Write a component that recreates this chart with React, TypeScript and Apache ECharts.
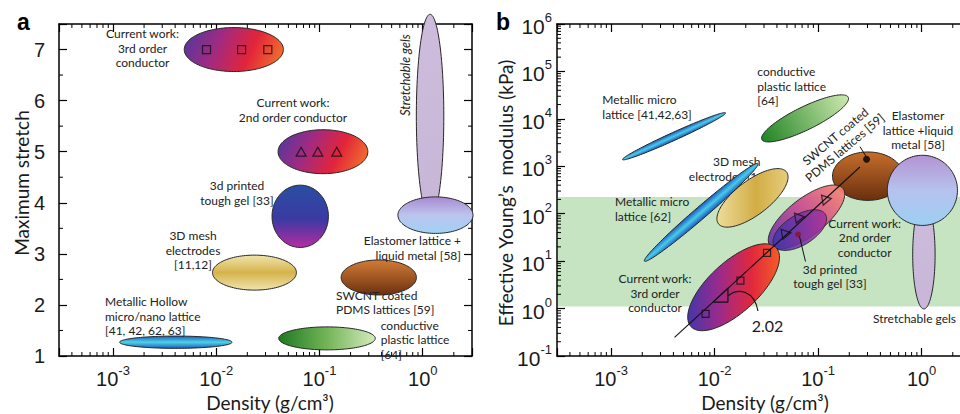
import React, { useEffect, useRef } from "react";
import * as echarts from "echarts";

// ---------------- axes ----------------
const densityMin = 3e-4;
const densityMax = 3;
const stretchMin = 1;
const stretchMax = 7.5;
const modulusMin = 0.1;
const modulusMax = 1e6;
const stretchMinorTicks = [1.5, 2.5, 3.5, 4.5, 5.5, 6.5];
const densityDecades = [-4, -3, -2, -1, 0];
const modulusDecades = [-1, 0, 1, 2, 3, 4, 5];
const minorMultipliers = [2, 3, 4, 5, 6, 7, 8, 9];

// ---------------- panel a : maximum stretch vs density ----------------
// axis-aligned regions: [densityLow, densityHigh, stretchLow, stretchHigh]
const aStretchableGels = [0.867, 1.6, 3.7, 7.69];
const aElastomerLM = [0.575, 3.07, 3.4, 4.115];
const aThirdOrder = [4.9e-3, 0.0447, 6.57, 7.43];
const aSecondOrder = [0.0397, 0.294, 4.57, 5.43];
const aToughGel = [0.0347, 0.122, 3.125, 4.345];
const aMeshElectrodes = [9.2e-3, 0.0598, 2.29, 2.975];
const aSwcntPdms = [0.162, 0.869, 2.195, 2.88];
const aHollowLattice = [1.16e-3, 0.0142, 1.15, 1.39];
const aPlasticLattice = [0.0403, 0.347, 1.12, 1.57];
const aSquareDensity = [8.05e-3, 0.0176, 0.0316];
const aSquareStretch = [7, 7, 7];
const aTriangleDensity = [0.0664, 0.0964, 0.147];
const aTriangleStretch = [5, 5, 5];

// ---------------- panel b : modulus vs density ----------------
// tilted regions: [density1, modulus1, density2, modulus2, widthRatio]
const bMicroLattice1 = [1.29e-3, 1384, 0.01276, 13360, 0.07];
const bPlasticLattice = [0.0286, 3665, 0.1954, 28560, 0.24];
const bMeshElectrodes = [0.01089, 61.3, 0.0495, 760, 0.4];
const bMicroLattice2 = [2.1e-3, 10, 0.0262, 1140, 0.08];
const bSecondOrder = [0.0343, 21.2, 0.1738, 339.7, 0.4];
const bToughGel = [0.0377, 20.9, 0.1175, 97.3, 0.5];
const bThirdOrder = [5.91e-3, 0.416, 0.0394, 19.05, 0.43];
// axis-aligned regions: [densityLow, densityHigh, modulusLow, modulusHigh]
const bSwcntPdms = [0.1377, 0.665, 191, 2004];
const bElastomerLM = [0.466, 2.22, 56.6, 1706];
const bStretchableGels = [0.82, 1.35, 0.98, 190];
const bBand = [1.1, 224];
const bSquareDensity = [8.18e-3, 0.01775, 0.0321];
const bSquareModulus = [0.77, 3.9, 15.0];
const bTriangleDensity = [0.0494, 0.0665, 0.1213];
const bTriangleModulus = [38.4, 83.6, 201];
const bSwcntPoint = [0.294, 1406];
const bToughGelPoint = [0.064, 36.5];
const bFitDensity = [4.1e-3, 0.2535];
const bFitModulus = [0.247, 966];
const bSlopeDensity = [9.63e-3, 0.01345, 0.01345, 9.63e-3];
const bSlopeModulus = [1.37, 2.68, 1.37, 1.37];
const slopeLabel = "2.02";

// ---------------- styles ----------------
type Fill = { dir: string; stops: [number, string][]; opacity?: number };
const F: Record<string, Fill> = {
  gel: { dir: "v", stops: [[0, "#cdbcdb"], [1, "#c8b6d8"]] },
  elastomer: { dir: "v", stops: [[0, "#a98ad0"], [0.5, "#bcc4ee"], [1, "#9fd2f4"]] },
  current: { dir: "d", stops: [[0, "#4a3aa0"], [0.35, "#a22a80"], [0.65, "#e2243a"], [1, "#f4822a"]] },
  tough: { dir: "v", stops: [[0, "#2a4ea2"], [0.55, "#3b3aa2"], [1, "#b42ca2"]] },
  meshA: { dir: "v", stops: [[0, "#f0e4aa"], [0.5, "#d5b34c"], [1, "#f0e4ae"]] },
  swcnt: { dir: "v", stops: [[0, "#d27c36"], [1, "#6c300f"]] },
  hollow: { dir: "v", stops: [[0, "#1c5cc0"], [0.5, "#4fd2e6"], [1, "#1c5cc0"]] },
  plasticA: { dir: "h", stops: [[0, "#1e7a22"], [0.5, "#74b458"], [1, "#d4eabc"]] },
  micro: { dir: "minor", stops: [[0, "#1a58c0"], [0.5, "#48cbe8"], [1, "#1a58c0"]] },
  plasticB: { dir: "major", stops: [[0, "#208424"], [1, "#cde8ae"]] },
  meshB: { dir: "h", stops: [[0, "#eedc9a"], [0.55, "#d2ad46"], [1, "#e6cc7c"]] },
  thirdB: { dir: "h", stops: [[0, "#4536aa"], [0.35, "#9c2a8a"], [0.7, "#e2283c"], [1, "#f25c2a"]] },
  secondB: { dir: "major", stops: [[0, "#6438a8"], [0.5, "#c84c92"], [1, "#f48472"]], opacity: 0.95 },
  toughB: { dir: "h", stops: [[0, "#3a34aa"], [1, "#a6309a"]], opacity: 0.85 },
  swcntB: { dir: "v", stops: [[0, "#c66e2c"], [1, "#6a2f0e"]] },
  elastomerB: { dir: "v", stops: [[0, "#b393d2"], [0.5, "#b6c2ee"], [1, "#9ccff2"]] },
};

const aEllipses = [
  { box: aStretchableGels, fill: F.gel },
  { box: aElastomerLM, fill: F.elastomer },
  { box: aThirdOrder, fill: F.current },
  { box: aSecondOrder, fill: F.current },
  { box: aToughGel, fill: F.tough },
  { box: aMeshElectrodes, fill: F.meshA },
  { box: aSwcntPdms, fill: F.swcnt },
  { box: aHollowLattice, fill: F.hollow },
  { box: aPlasticLattice, fill: F.plasticA },
];
const bEllipses = [
  { tilt: bMicroLattice1, fill: F.micro },
  { tilt: bPlasticLattice, fill: F.plasticB },
  { tilt: bMeshElectrodes, fill: F.meshB },
  { tilt: bMicroLattice2, fill: F.micro },
  { box: bSwcntPdms, fill: F.swcntB },
  { box: bStretchableGels, fill: F.gel },
  { box: bElastomerLM, fill: F.elastomerB },
  { tilt: bSecondOrder, fill: F.secondB },
  { tilt: bToughGel, fill: F.toughB },
  { tilt: bThirdOrder, fill: F.thirdB },
];

const tickFont = '"Liberation Sans", Arial, Helvetica, sans-serif';
const noteFont = 'Lato, "Open Sans", "Noto Sans", sans-serif';
const ink = "#1a1a1a";

function ellipseRenderer(specs: any[]) {
  return (params: any, api: any) => {
    const s = specs[api.value(2)];
    let cx: number, cy: number, a: number, b: number, ux: number, uy: number;
    if (s.box) {
      const p0 = api.coord([s.box[0], s.box[2]]);
      const p1 = api.coord([s.box[1], s.box[3]]);
      cx = (p0[0] + p1[0]) / 2;
      cy = (p0[1] + p1[1]) / 2;
      a = Math.abs(p1[0] - p0[0]) / 2;
      b = Math.abs(p1[1] - p0[1]) / 2;
      ux = 1;
      uy = 0;
    } else {
      const t = s.tilt;
      const p0 = api.coord([t[0], t[1]]);
      const p1 = api.coord([t[2], t[3]]);
      cx = (p0[0] + p1[0]) / 2;
      cy = (p0[1] + p1[1]) / 2;
      const dx = p1[0] - p0[0];
      const dy = p1[1] - p0[1];
      const len = Math.hypot(dx, dy);
      a = len / 2;
      b = a * t[4];
      ux = dx / len;
      uy = dy / len;
    }
    const vx = -uy;
    const vy = ux;
    const pts: number[][] = [];
    let minX = Infinity, maxX = -Infinity, minY = Infinity, maxY = -Infinity;
    const n = 120;
    for (let k = 0; k < n; k++) {
      const th = (k / n) * Math.PI * 2;
      const c = Math.cos(th) * a;
      const sn = Math.sin(th) * b;
      const x = cx + c * ux + sn * vx;
      const y = cy + c * uy + sn * vy;
      pts.push([x, y]);
      minX = Math.min(minX, x); maxX = Math.max(maxX, x);
      minY = Math.min(minY, y); maxY = Math.max(maxY, y);
    }
    const f: Fill = s.fill;
    let g: number[];
    if (f.dir === "h") g = [minX, cy, maxX, cy];
    else if (f.dir === "v") g = [cx, minY, cx, maxY];
    else if (f.dir === "d") g = [minX, minY, maxX, maxY];
    else if (f.dir === "major") {
      const sx = ux >= 0 ? 1 : -1;
      g = [cx - sx * a * ux, cy - sx * a * uy, cx + sx * a * ux, cy + sx * a * uy];
    } else g = [cx - b * vx, cy - b * vy, cx + b * vx, cy + b * vy];
    const grad = new echarts.graphic.LinearGradient(
      g[0], g[1], g[2], g[3],
      f.stops.map(([offset, color]) => ({ offset, color })),
      true
    );
    return {
      type: "polygon",
      shape: { points: pts },
      style: { fill: grad, stroke: "#262626", lineWidth: 1, opacity: f.opacity ?? 1 },
    };
  };
}

function minorTickSeries(xi: number, yi: number, dir: "x" | "y", values: number[], other: number) {
  return {
    type: "custom",
    xAxisIndex: xi,
    yAxisIndex: yi,
    z: 6,
    silent: true,
    clip: false,
    data: values.map((v) => (dir === "x" ? [v, other] : [other, v])),
    renderItem: (params: any, api: any) => {
      const cs = params.coordSys;
      const p = api.coord([api.value(0), api.value(1)]);
      const st = { stroke: "#000", lineWidth: 1 };
      if (dir === "x") {
        const bot = cs.y + cs.height;
        return {
          type: "group",
          children: [
            { type: "line", shape: { x1: p[0], y1: bot, x2: p[0], y2: bot - 4 }, style: st },
            { type: "line", shape: { x1: p[0], y1: cs.y, x2: p[0], y2: cs.y + 4 }, style: st },
          ],
        };
      }
      const right = cs.x + cs.width;
      return {
        type: "group",
        children: [
          { type: "line", shape: { x1: cs.x, y1: p[1], x2: cs.x + 4, y2: p[1] }, style: st },
          { type: "line", shape: { x1: right, y1: p[1], x2: right - 4, y2: p[1] }, style: st },
        ],
      };
    },
  };
}

const powLabel = (v: number) => {
  const l = Math.log10(v);
  const e = Math.round(l);
  if (Math.abs(l - e) > 1e-6) return "";
  return `{b|10}{s|${e}}`;
};
const powRich = {
  b: { fontSize: 20, fontFamily: tickFont, color: ink, padding: [5, 0, 0, 0], verticalAlign: "bottom" },
  s: { fontSize: 13, fontFamily: tickFont, color: ink, verticalAlign: "top" },
};

const axisLineStyle = { color: "#000", width: 1.5 };
const tickStyle = { inside: true, length: 8, lineStyle: { color: "#000", width: 1.2 } };

function logX(grid: number, pos: string, labels: boolean) {
  return {
    type: "log", gridIndex: grid, position: pos, min: densityMin, max: densityMax, logBase: 10, z: 2,
    axisLine: { show: true, lineStyle: axisLineStyle },
    axisTick: tickStyle,
    splitLine: { show: false },
    minorTick: { show: false },
    axisLabel: { show: labels, formatter: powLabel, rich: powRich, margin: 8, showMinLabel: true, showMaxLabel: true, hideOverlap: false },
  };
}

function buildOption() {
  const xMinor: number[] = [];
  densityDecades.forEach((d) => minorMultipliers.forEach((m) => {
    const v = m * Math.pow(10, d);
    if (v > densityMin * 1.01 && v < densityMax * 0.99) xMinor.push(v);
  }));
  const yMinor: number[] = [];
  modulusDecades.forEach((d) => minorMultipliers.forEach((m) => {
    const v = m * Math.pow(10, d);
    if (v > modulusMin && v < modulusMax) yMinor.push(v);
  }));

  const hollowMarker = { color: "rgba(0,0,0,0)", borderColor: "#111", borderWidth: 1.2 };

  // text placed by the centre of its block
  const text = (t: string, x: number, y: number, align: string, extra: any = {}) => ({
    type: "text",
    x, y, z: extra.z ?? 10,
    rotation: extra.rotation ?? 0,
    style: {
      text: t, fill: extra.fill ?? "#222", fontFamily: extra.font ?? noteFont,
      fontSize: extra.size ?? 12, lineHeight: extra.lh ?? 14.5, align, verticalAlign: "middle",
      fontStyle: extra.italic ? "italic" : "normal", fontWeight: extra.bold ? "bold" : "normal",
    },
  });

  const graphics: any[] = [
    text("a", 17, 22, "left", { size: 23, lh: 24, bold: true, font: tickFont, fill: "#000" }),
    text("b", 496, 22, "left", { size: 23, lh: 24, bold: true, font: tickFont, fill: "#000" }),
    text("Maximum stretch", 21, 183, "center", { size: 19, lh: 22, rotation: Math.PI / 2, fill: ink }),
    text("Effective Young\u2019s  modulus (kPa)", 505, 193, "center", { size: 19, lh: 22, rotation: Math.PI / 2, fill: ink }),
    text("Density (g/cm\u00b3)", 270, 402, "center", { size: 19, lh: 22, fill: ink }),
    text("Density (g/cm\u00b3)", 765, 402, "center", { size: 19, lh: 22, fill: ink }),
    // panel a notes
    text("Current work:\n3rd order\nconductor", 142.5, 48, "center"),
    text("Current work:\n2nd order conductor", 293, 110, "center"),
    text("3d printed\ntough gel [33]", 237, 193, "center"),
    text("Stretchable gels", 405, 75, "center", { rotation: Math.PI / 2, italic: true, size: 12.5, lh: 15 }),
    text("3D mesh\nelectrodes\n[11,12]", 193, 250, "center"),
    text("Elastomer lattice +\nliquid metal [58]", 461, 248, "right"),
    text("SWCNT coated\nPDMS lattices [59]", 336, 302.5, "left"),
    text("Metallic Hollow\nmicro/nano lattice\n[41, 42, 62, 63]", 105, 316, "left"),
    text("conductive\nplastic lattice\n[64]", 380.7, 339.5, "left"),
    // panel b notes
    text("Metallic micro\nlattice [41,42,63]", 602.3, 107, "left"),
    text("conductive\nplastic lattice\n[64]", 757.3, 86, "left"),
    text("Elastomer\nlattice +liquid\nmetal [58]", 918, 130, "center"),
    text("SWCNT coated\nPDMS lattices [59]", 840, 142, "center", { rotation: (40 * Math.PI) / 180 }),
    text("3D mesh\nelectrodes [11,12]", 736.7, 169, "center", { z: 2 }),
    text("Metallic micro\nlattice [62]", 615, 209.2, "left"),
    text("Current work:\n3rd order\nconductor", 655, 293, "center"),
    text("Current work:\n2nd order\nconductor", 864.7, 237.5, "center"),
    text("3d printed\ntough gel [33]", 830, 276.5, "center"),
    text(slopeLabel, 767.5, 325, "center", { size: 16, lh: 19, fill: ink }),
    text("Stretchable gels", 914.5, 318.3, "center"),
    // leaders
    { type: "line", z: 12, shape: { x1: 860, y1: 146.7, x2: 867, y2: 158 }, style: { stroke: "#111", lineWidth: 1 } },
    { type: "line", z: 12, shape: { x1: 799.5, y1: 236.5, x2: 805.5, y2: 261.5 }, style: { stroke: "#111", lineWidth: 1 } },
    {
      type: "bezierCurve", z: 12,
      shape: { x1: 728.5, y1: 295.5, cpx1: 738, cpy1: 288, cpx2: 754, cpy2: 290, x2: 758, y2: 311 },
      style: { stroke: "#111", lineWidth: 1.2, fill: "none" },
    },
  ];

  return {
    animation: false,
    backgroundColor: "#ffffff",
    grid: [
      { left: 59, top: 24, width: 413, height: 332, outerBoundsMode: "none", containLabel: false },
      { left: 557, top: 24, width: 414, height: 332, outerBoundsMode: "none", containLabel: false },
    ],
    xAxis: [logX(0, "bottom", true), logX(0, "top", false), logX(1, "bottom", true), logX(1, "top", false)],
    yAxis: [
      {
        type: "value", gridIndex: 0, position: "left", min: stretchMin, max: stretchMax, interval: 1, z: 2,
        axisLine: { show: true, lineStyle: axisLineStyle }, axisTick: tickStyle, splitLine: { show: false },
        axisLabel: {
          fontSize: 20, fontFamily: tickFont, color: ink, margin: 14,
          formatter: (v: number) => (Number.isInteger(v) ? String(v) : ""),
        },
      },
      {
        type: "value", gridIndex: 0, position: "right", min: stretchMin, max: stretchMax, interval: 1, z: 2,
        axisLine: { show: true, lineStyle: axisLineStyle }, axisTick: tickStyle, splitLine: { show: false },
        axisLabel: { show: false },
      },
      {
        type: "log", gridIndex: 1, position: "left", min: modulusMin, max: modulusMax, logBase: 10, z: 2,
        axisLine: { show: true, lineStyle: axisLineStyle }, axisTick: tickStyle, splitLine: { show: false },
        axisLabel: { formatter: powLabel, rich: { ...powRich, b: { ...powRich.b, fontSize: 21 } }, margin: 5, hideOverlap: false },
      },
      {
        type: "log", gridIndex: 1, position: "right", min: modulusMin, max: modulusMax, logBase: 10, z: 2,
        axisLine: { show: true, lineStyle: axisLineStyle }, axisTick: tickStyle, splitLine: { show: false },
        axisLabel: { show: false },
      },
    ],
    series: [
      // green band
      {
        type: "custom", xAxisIndex: 2, yAxisIndex: 2, z: 1, silent: true,
        data: [[1, bBand[0]]],
        renderItem: (params: any, api: any) => {
          const cs = params.coordSys;
          const lo = api.coord([1, bBand[0]]);
          const hi = api.coord([1, bBand[1]]);
          return {
            type: "rect",
            shape: { x: cs.x + 1, y: hi[1], width: cs.width, height: lo[1] - hi[1] },
            style: { fill: "#c6e4c2" },
          };
        },
      },
      {
        type: "custom", xAxisIndex: 0, yAxisIndex: 0, z: 3, silent: true, clip: false,
        encode: { x: 0, y: 1 },
        data: aEllipses.map((s, i) => [s.box[0], s.box[2], i]),
        renderItem: ellipseRenderer(aEllipses),
      },
      {
        type: "custom", xAxisIndex: 2, yAxisIndex: 2, z: 3, silent: true, clip: false,
        encode: { x: 0, y: 1 },
        data: bEllipses.map((s: any, i) => [(s.box || s.tilt)[0], (s.box ? s.box[2] : s.tilt[1]), i]),
        renderItem: ellipseRenderer(bEllipses),
      },
      {
        type: "line", xAxisIndex: 2, yAxisIndex: 2, z: 4, silent: true, symbol: "none",
        data: bFitDensity.map((x, i) => [x, bFitModulus[i]]),
        lineStyle: { color: "#111", width: 1.1 },
      },
      {
        type: "line", xAxisIndex: 2, yAxisIndex: 2, z: 4, silent: true, symbol: "none",
        data: bSlopeDensity.map((x, i) => [x, bSlopeModulus[i]]),
        lineStyle: { color: "#111", width: 1.2 },
      },
      {
        type: "scatter", xAxisIndex: 0, yAxisIndex: 0, z: 5, symbol: "rect", symbolSize: 8,
        data: aSquareDensity.map((x, i) => [x, aSquareStretch[i]]), itemStyle: hollowMarker,
      },
      {
        type: "scatter", xAxisIndex: 0, yAxisIndex: 0, z: 5, symbol: "triangle", symbolSize: [10, 9],
        data: aTriangleDensity.map((x, i) => [x, aTriangleStretch[i]]), itemStyle: hollowMarker,
      },
      {
        type: "scatter", xAxisIndex: 2, yAxisIndex: 2, z: 5, symbol: "rect", symbolSize: 7,
        data: bSquareDensity.map((x, i) => [x, bSquareModulus[i]]), itemStyle: hollowMarker,
      },
      {
        type: "scatter", xAxisIndex: 2, yAxisIndex: 2, z: 5, symbol: "triangle", symbolSize: [10, 9],
        symbolRotate: -80,
        data: bTriangleDensity.map((x, i) => [x, bTriangleModulus[i]]), itemStyle: hollowMarker,
      },
      {
        type: "scatter", xAxisIndex: 2, yAxisIndex: 2, z: 5, symbol: "circle", symbolSize: 7,
        data: [bSwcntPoint], itemStyle: { color: "#000" },
      },
      {
        type: "scatter", xAxisIndex: 2, yAxisIndex: 2, z: 5, symbol: "circle", symbolSize: 6,
        data: [bToughGelPoint], itemStyle: { color: "#8a1426" },
      },
      minorTickSeries(0, 0, "x", xMinor, 1),
      minorTickSeries(0, 0, "y", stretchMinorTicks, densityMin * 2),
      minorTickSeries(2, 2, "x", xMinor, 1),
      minorTickSeries(2, 2, "y", yMinor, densityMin * 2),
    ],
    graphic: { elements: graphics },
  };
}

export default function App() {
  const ref = useRef<HTMLDivElement>(null);
  useEffect(() => {
    if (!ref.current) return;
    const chart = echarts.init(ref.current, undefined, { renderer: "svg" });
    chart.setOption(buildOption() as any);
    return () => chart.dispose();
  }, []);
  return (
    <div
      ref={ref}
      style={{ position: "fixed", left: 0, top: 0, width: 960, height: 414, background: "#fff" }}
    />
  );
}
